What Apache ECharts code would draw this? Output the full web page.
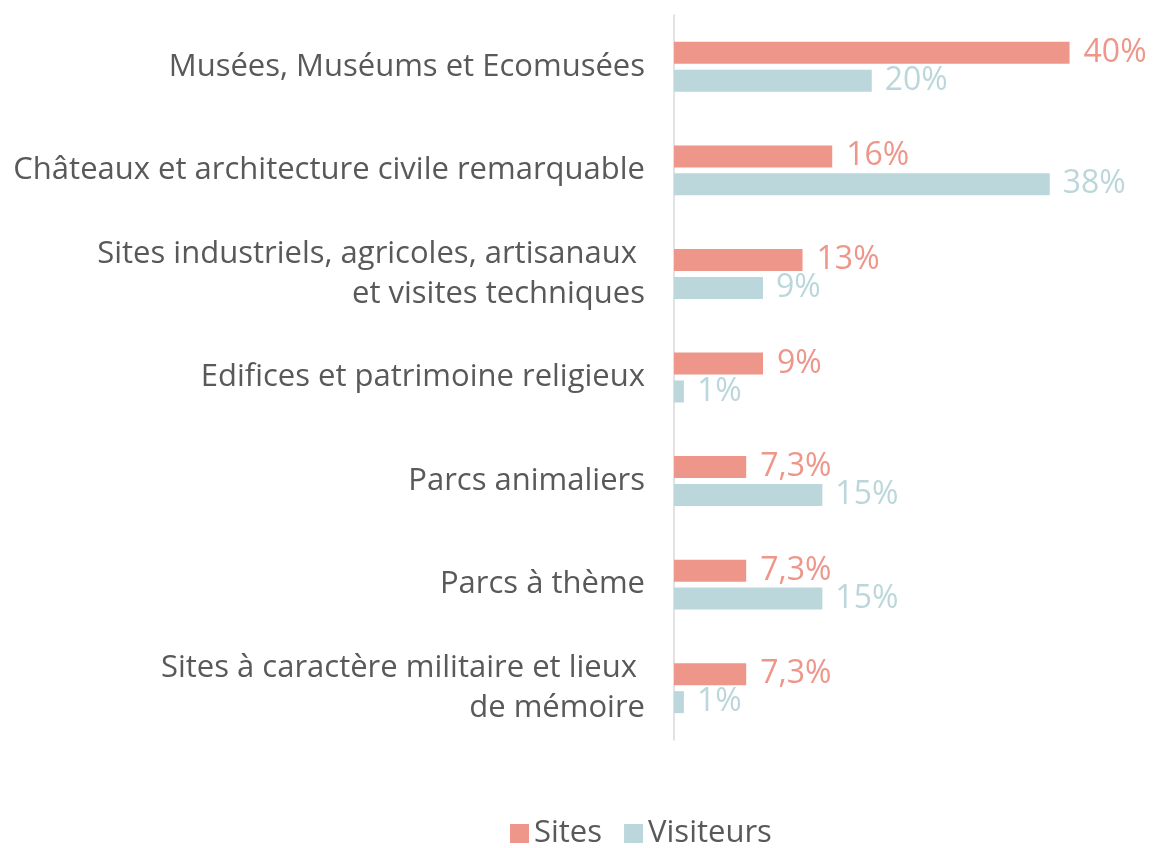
<!DOCTYPE html>
<html><head><meta charset="utf-8">
<script src="https://cdn.jsdelivr.net/npm/echarts@6/dist/echarts.min.js"></script>
<style>html,body{margin:0;padding:0;background:#fff}#c{width:1155px;height:848px}</style>
</head><body><div id="c"></div>
<script>
const categories = [
  "Musées, Muséums et Ecomusées",
  "Châteaux et architecture civile remarquable",
  "Sites industriels, agricoles, artisanaux \net visites techniques",
  "Edifices et patrimoine religieux",
  "Parcs animaliers",
  "Parcs à thème",
  "Sites à caractère militaire et lieux \nde mémoire"
];
const sites = [40, 16, 13, 9, 7.3, 7.3, 7.3];
const visiteurs = [20, 38, 9, 1, 15, 15, 1];
const seriesNames = ["Sites", "Visiteurs"];

const FONT = "Open Sans";
const fmt = v => String(v.value).replace('.', ',') + '%';
const chart = echarts.init(document.getElementById('c'));
chart.setOption({
  animation: false,
  textStyle: { fontFamily: FONT },
  grid: { left: 674, top: 15, bottom: 108, right: 36 },
  legend: {
    top: 818, left: 510, padding: 0, itemWidth: 19, itemHeight: 19, itemGap: 22,
    icon: 'rect',
    textStyle: { fontSize: 31, color: '#595959', fontFamily: FONT },
    data: seriesNames
  },
  xAxis: { type: 'value', min: 0, max: 45, show: false },
  yAxis: {
    type: 'category', inverse: true, data: categories,
    axisLine: { show: true, lineStyle: { color: '#d9d9d9', width: 1.5 } },
    axisTick: { show: false },
    axisLabel: { fontSize: 31, color: '#595959', margin: 29, lineHeight: 40, align: 'right', fontFamily: FONT, padding: [4, 0, 0, 0] }
  },
  series: [
    { name: seriesNames[0], type: 'bar', data: sites, barWidth: 22, barGap: '27%',
      itemStyle: { color: '#EE968A' },
      label: { show: true, position: 'right', distance: 14, formatter: fmt, fontSize: 32, color: '#EE968A', fontFamily: FONT } },
    { name: seriesNames[1], type: 'bar', data: visiteurs, barWidth: 22,
      itemStyle: { color: '#BBD7DB' },
      label: { show: true, position: 'right', distance: 13, formatter: fmt, fontSize: 32, color: '#BBD7DB', fontFamily: FONT } }
  ]
});
</script></body></html>
